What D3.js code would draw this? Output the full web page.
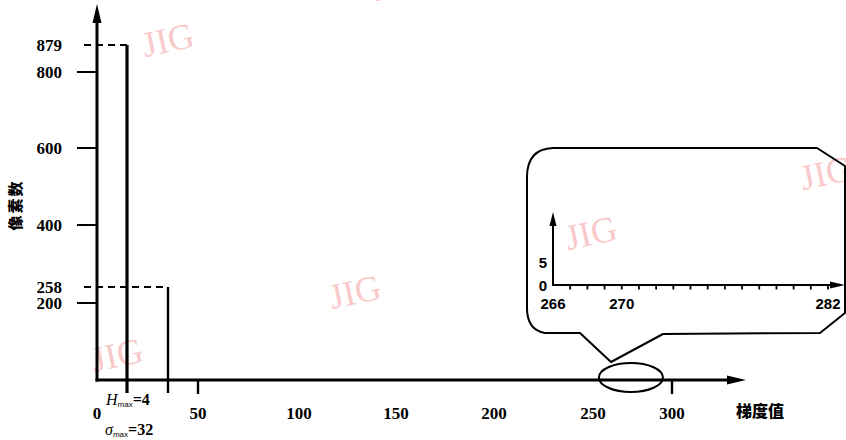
<!DOCTYPE html>
<html>
<head>
<meta charset="utf-8">
<script src="https://cdn.jsdelivr.net/npm/d3@7"></script>
<style>
html,body{margin:0;padding:0;background:#fff;}
svg{display:block;}
</style>
</head>
<body>
<script>
// ---------- data ----------
const gradientValues = [4, 32];          // H_max, sigma_max
const pixelCounts = [879, 258];
const yTickValues = [200, 400, 600, 800];
const yMarkedValues = [879, 258];
const xTickLabels = [0, 50, 100, 150, 200, 250, 300];
const xTickMarks = [50, 300];
const insetXTicks = [266,267,268,269,270,271,272,273,274,275,276,277,278,279,280,281,282];
const insetXLabels = [266, 270, 282];
const insetYLabels = [0, 5];
const insetCounts = [];                  // no pixels in 266..282
const watermarks = ["JIG","JIG","JIG","JIG","JIG","JIG"];

// ---------- layout ----------
const W = 846, H = 440;
const svg = d3.select("body").append("svg").attr("width", W).attr("height", H);
svg.append("rect").attr("width", W).attr("height", H).attr("fill", "#fff");

const serif = "'Liberation Serif','Times New Roman',serif";
const sans = "'Liberation Sans',Arial,sans-serif";
const cjk = "'Noto Sans CJK SC','Noto Sans CJK JP',sans-serif";

// schematic (not-to-scale) axes, as in the original figure
const x = d3.scaleLinear()
  .domain([0, 4, 32, 50, 100, 150, 200, 250, 300])
  .range([97, 127, 168, 198, 299, 396, 494, 593, 672]);
const y = d3.scaleLinear()
  .domain([0, 200, 258, 400, 600, 800, 879])
  .range([380, 303, 287, 225, 148, 72, 45]);

// watermarks
const wmPos = [[168, 40], [355, 292], [117, 355], [591, 233], [826, 173], [398, -16]];
svg.append("g").selectAll("text").data(watermarks).join("text")
  .attr("transform", (d, i) => `translate(${wmPos[i][0]},${wmPos[i][1]}) rotate(-12)`)
  .attr("text-anchor", "middle").attr("dominant-baseline", "central")
  .attr("font-family", serif).attr("font-size", 36)
  .attr("fill", "#f7b8b8").attr("opacity", 0.75)
  .text(d => d);

const ink = "#000";

// main axes
const x0 = x(0), y0 = y(0);
svg.append("line").attr("x1", x0).attr("x2", x0).attr("y1", y0 + 1.5).attr("y2", 18)
  .attr("stroke", ink).attr("stroke-width", 3);
svg.append("path").attr("d", `M${x0},4 L${x0 - 4.5},23 L${x0 + 4.5},23 Z`).attr("fill", ink);
svg.append("line").attr("x1", x0 - 1.5).attr("x2", 732).attr("y1", y0).attr("y2", y0)
  .attr("stroke", ink).attr("stroke-width", 3);
svg.append("path").attr("d", `M746,${y0} L727,${y0 - 4.5} L727,${y0 + 4.5} Z`).attr("fill", ink);

// y ticks
svg.append("g").selectAll("line").data(yTickValues).join("line")
  .attr("x1", 77).attr("x2", x0).attr("y1", d => y(d)).attr("y2", d => y(d))
  .attr("stroke", ink).attr("stroke-width", 2);

// dashed guide lines for marked values
svg.append("g").selectAll("line").data(yMarkedValues).join("line")
  .attr("x1", 84).attr("x2", (d, i) => x(gradientValues[i]))
  .attr("y1", d => y(d)).attr("y2", d => y(d))
  .attr("stroke", ink).attr("stroke-width", 2).attr("stroke-dasharray", "7,5");

// y tick labels
svg.append("g").selectAll("text").data(yTickValues.concat(yMarkedValues)).join("text")
  .attr("x", 62).attr("y", d => y(d)).attr("text-anchor", "end").attr("dominant-baseline", "central")
  .attr("font-family", serif).attr("font-weight", "bold").attr("font-size", 17)
  .text(d => d);

// bars (histogram spikes)
svg.append("g").selectAll("line").data(gradientValues).join("line")
  .attr("x1", d => x(d)).attr("x2", d => x(d))
  .attr("y1", (d, i) => y(pixelCounts[i])).attr("y2", 393)
  .attr("stroke", ink).attr("stroke-width", (d, i) => i === 0 ? 3.2 : 2.4);

// x tick marks
svg.append("g").selectAll("line").data(xTickMarks).join("line")
  .attr("x1", d => x(d)).attr("x2", d => x(d)).attr("y1", y0).attr("y2", 394)
  .attr("stroke", ink).attr("stroke-width", 2.4);

// x tick labels
svg.append("g").selectAll("text").data(xTickLabels).join("text")
  .attr("x", d => x(d)).attr("y", 419).attr("text-anchor", "middle")
  .attr("font-family", serif).attr("font-weight", "bold").attr("font-size", 17)
  .text(d => d);

// H_max / sigma_max annotations
function annot(sym, italic, val, xx, yy) {
  const t = svg.append("text").attr("x", xx).attr("y", yy)
    .attr("font-family", serif).attr("font-weight", "bold").attr("font-size", 16);
  t.append("tspan").attr("font-style", italic ? "italic" : "normal").attr("font-weight", "normal").text(sym);
  t.append("tspan").attr("font-size", 8).attr("font-family", sans).attr("font-weight", "normal").attr("dy", 1.5).text("max");
  t.append("tspan").attr("dy", -1.5).text("=" + val);
}
annot("H", true, gradientValues[0], 106, 405);
annot("σ", true, gradientValues[1], 105, 435);

// axis titles
svg.append("text").attr("transform", "translate(14,205) rotate(-90)")
  .attr("text-anchor", "middle").attr("dominant-baseline", "central")
  .attr("font-family", cjk).attr("font-weight", "900").attr("font-size", 15)
  .attr("letter-spacing", 2).text("像素数");
svg.append("text").attr("x", 760).attr("y", 410).attr("text-anchor", "middle")
  .attr("dominant-baseline", "central")
  .attr("font-family", cjk).attr("font-weight", "900").attr("font-size", 16)
  .text("梯度值");

// ---------- callout + inset ----------
const ell = svg.append("ellipse").attr("cx", x(274)).attr("cy", 377.5).attr("rx", 32).attr("ry", 14.5)
  .attr("fill", "none").attr("stroke", ink).attr("stroke-width", 2);

const bubble = d3.path();
bubble.moveTo(553, 148);
bubble.lineTo(817, 148);
bubble.lineTo(845, 166);
bubble.lineTo(845, 313);
bubble.lineTo(820, 333);
bubble.lineTo(663, 334);
bubble.lineTo(611, 362);
bubble.lineTo(580, 333);
bubble.lineTo(545, 333);
bubble.quadraticCurveTo(527, 330, 527, 308);
bubble.lineTo(527, 177);
bubble.quadraticCurveTo(527, 149, 553, 148);
svg.append("path").attr("d", bubble.toString()).attr("fill", "none")
  .attr("stroke", ink).attr("stroke-width", 2).attr("stroke-linejoin", "round");

const ix = d3.scaleLinear().domain([266, 282]).range([553, 828]);
const iy = d3.scaleLinear().domain([0, 5]).range([285, 262.5]);
const ix0 = ix(266), iy0 = iy(0);

svg.append("line").attr("x1", ix0).attr("x2", ix0).attr("y1", iy0 + 1).attr("y2", 224)
  .attr("stroke", ink).attr("stroke-width", 2);
svg.append("path").attr("d", `M${ix0},212 L${ix0 - 3.5},226 L${ix0 + 3.5},226 Z`).attr("fill", ink);
svg.append("line").attr("x1", ix0 - 1).attr("x2", 832).attr("y1", iy0).attr("y2", iy0)
  .attr("stroke", ink).attr("stroke-width", 2);
svg.append("path").attr("d", `M845,${iy0} L830,${iy0 - 3.5} L830,${iy0 + 3.5} Z`).attr("fill", ink);

svg.append("g").selectAll("line").data(insetXTicks.slice(1)).join("line")
  .attr("x1", d => ix(d)).attr("x2", d => ix(d)).attr("y1", iy0).attr("y2", iy0 + 4.5)
  .attr("stroke", ink).attr("stroke-width", 1.8);

svg.append("g").selectAll("text").data(insetXLabels).join("text")
  .attr("x", d => ix(d)).attr("y", 309).attr("text-anchor", "middle")
  .attr("font-family", sans).attr("font-weight", "bold").attr("font-size", 15)
  .text(d => d);
svg.append("g").selectAll("text").data(insetYLabels).join("text")
  .attr("x", 547).attr("y", d => iy(d)).attr("text-anchor", "end").attr("dominant-baseline", "central")
  .attr("font-family", sans).attr("font-weight", "bold").attr("font-size", 15)
  .text(d => d);

// inset bars (none in this range)
svg.append("g").selectAll("line").data(insetCounts).join("line")
  .attr("x1", d => ix(d.g)).attr("x2", d => ix(d.g)).attr("y1", iy0).attr("y2", d => iy(d.n))
  .attr("stroke", ink).attr("stroke-width", 2);
</script>
</body>
</html>
